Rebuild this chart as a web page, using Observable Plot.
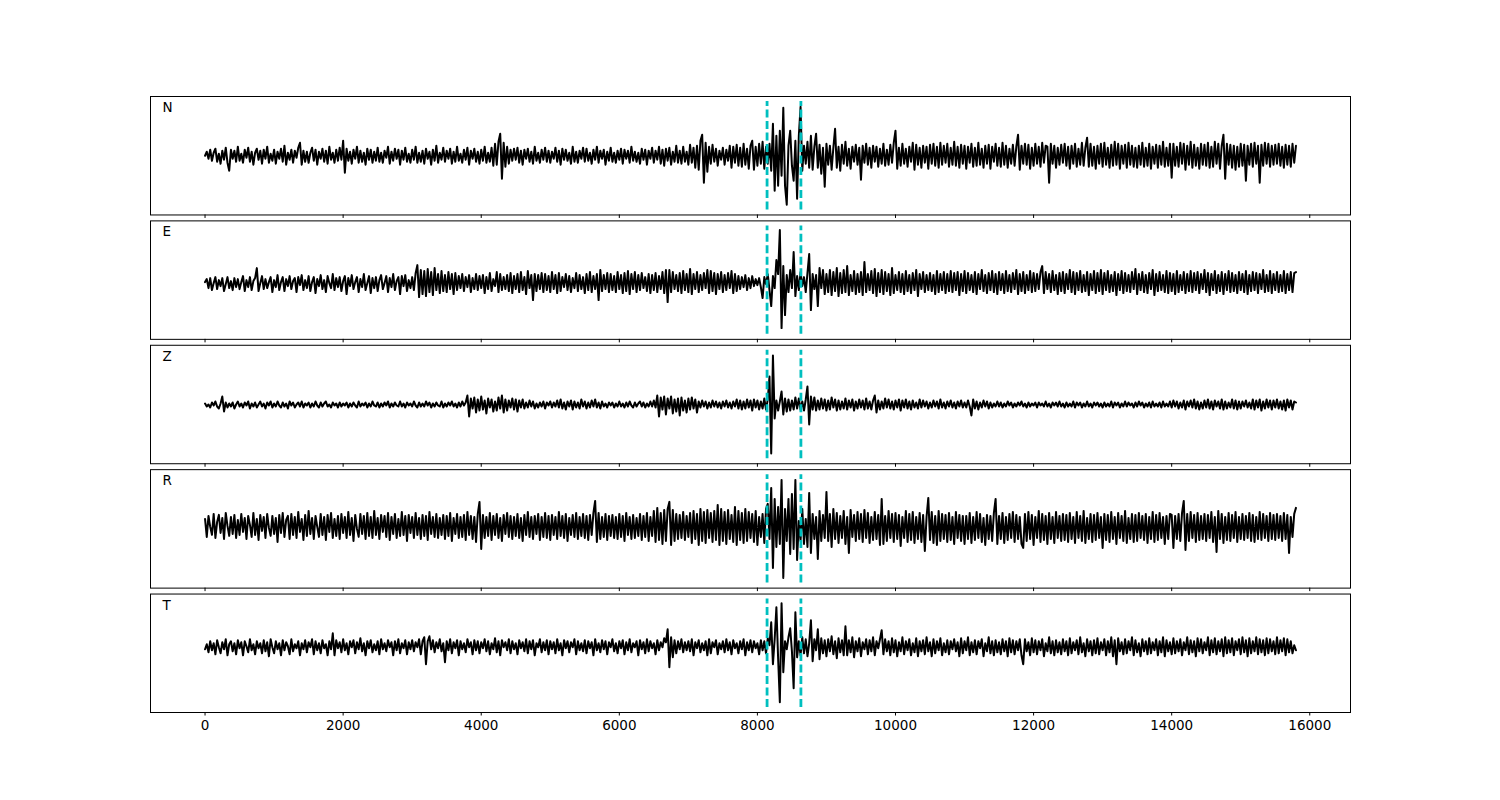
<!DOCTYPE html>
<html>
<head>
<meta charset="utf-8">
<script src="https://cdn.jsdelivr.net/npm/d3@7"></script>
<script src="https://cdn.jsdelivr.net/npm/@observablehq/plot@0.6"></script>
<style>
  html, body { margin: 0; padding: 0; background: white; }
  #chart { position: relative; width: 1500px; height: 800px; font-family: "DejaVu Sans", sans-serif; }
  #chart svg { position: absolute; left: 0; top: 0; }
</style>
</head>
<body>
<div id="chart"></div>
<script>
// Components and sampling
const components = ["N", "E", "Z", "R", "T"];
const sampleStep = 25;              // samples between stored values
const pickTimes = [8140, 8630];     // dashed cyan markers
const xTicks = [0, 2000, 4000, 6000, 8000, 10000, 12000, 14000, 16000];

// Trace amplitudes (one value every 25 samples, 20 per row)
const traceN = [
  0, 4, -3, 6, -5, 3, 7, -6, 2, -8, 5, -4, 8, -7, -15, 6, -3, 5, -6, 9,
  -5, 2, -7, 6, -2, 8, -6, 4, -9, 3, 7, -4, 5, -8, 6, -3, 9, -7, 2, -5,
  6, -8, 4, -3, 7, -6, 10, -9, 3, -4, 6, -7, 5, -2, 8, 13, -9, 5, -6, 4,
  -7, 3, 8, -5, 6, -9, 4, -3, 7, -6, 5, -8, 9, -4, 3, -7, 6, -5, 8, -4,
  15, -17, 7, -5, 4, -8, 6, -3, 9, -7, 5, -6, 3, -9, 7, -4, 6, -7, 4, -5,
  8, -6, 3, -7, 5, -2, 9, -8, 4, -5, 7, -3, 6, -9, 5, -4, 8, -6, 2, -7,
  6, -4, 9, -7, 3, -6, 5, -8, 7, -3, 4, -9, 6, -5, 10, -7, 3, -4, 8, -6,
  5, -3, 7, -8, 4, -6, 9, -5, 2, -7, 6, -4, 8, -9, 5, -3, 7, -6, 4, -8,
  6, -5, 9, -7, 3, -6, 8, -10, 12, -9, 14, 22, -23, 13, -11, 9, -8, 6, -5, 7,
  -4, 8, -7, 5, -9, 6, -3, 7, -6, 4, -8, 9, -5, 3, -7, 6, -4, 8, -6, 5,
  -7, 4, -3, 8, -6, 5, -9, 7, -4, 6, -5, 3, -8, 9, -6, 4, -7, 5, -3, 8,
  -6, 7, -5, 3, -8, 6, -4, 9, -7, 5, -3, 6, -9, 4, -5, 8, -6, 3, -7, 5,
  -4, 7, -8, 6, -3, 5, -7, 9, -5, 4, -6, 3, -8, 7, -4, 6, -9, 5, -3, 8,
  -7, 5, -4, 9, -8, 6, -10, 7, -5, 8, -9, 4, -6, 10, -7, 5, -8, 9, -6, 4,
  -9, 11, -7, 8, -12, 10, -14, 15, 21, -27, 13, -16, 9, -8, 11, -6, 7, -10, 5, -4,
  8, -9, 6, -5, 10, -12, 9, -7, 11, -10, 8, -11, 12, -9, 7, -13, 10, 15, -14, 9,
  -10, 12, -8, 14, -13, 9, -8, 12, -15, 32, -35, 20, -30, 25, -20, 48, -30, -49, 10, 25,
  -10, -25, 15, -43, 20, 49, -15, 10, -8, 14, -12, 20, -14, 9, 22, -12, 11, -18, 8, -31,
  12, -9, 10, -14, 8, 27, -12, 9, -15, 11, -8, 14, -10, 7, -13, 9, -6, 11, -9, 8,
  -24, 10, -7, 12, -9, 8, -12, 10, -6, 9, -11, 7, -8, 12, -10, 6, -9, 11, -7, 13,
  25, -13, 8, -10, 12, -8, 7, -11, 9, -6, 13, -14, 11, -9, 8, -12, 10, -7, 9, -13,
  11, -8, 12, -10, 9, -12, 13, -9, 10, -7, 12, -11, 8, -9, 14, -10, 9, -12, 11, -8,
  10, -13, 9, -7, 12, -11, 8, -10, 13, -9, 7, -12, 10, -8, 11, -13, 9, -6, 12, -10,
  8, -11, 13, -9, 10, -12, 7, -8, 11, -10, 9, 21, -14, 10, -8, 12, -9, 11, -13, 8,
  -10, 12, -8, 9, -11, 13, -7, 10, 9, -27, 12, -8, 10, -12, 8, -9, 11, -7, 12, -10,
  9, -13, 10, -8, 12, -11, 7, -9, 13, -10, 8, 18, -11, 12, -10, 9, -13, 10, -8, 12,
  -11, 13, -9, 8, -12, 11, -10, 14, -9, 12, -13, 10, -8, 11, -12, 13, -9, 10, -11, 8,
  -12, 10, -9, 13, -11, 8, -10, 12, -13, 9, -8, 11, -12, 10, -9, 14, -11, 8, -10, 12,
  -22, 12, -10, 9, -11, 13, -8, 12, -14, 10, -9, 14, -12, 11, -10, 8, -13, 12, -9, 11,
  -10, 13, -12, 9, -11, 14, -8, 12, -13, 10, 21, -23, 12, -9, 11, -12, 10, -14, 9, -11,
  12, -10, 11, -25, 10, -9, 12, -11, 13, -8, 10, -27, 11, -10, 13, -8, 12, -11, 10, -9,
  11, -8, 12, -10, 9, -12, 11, -9, 10, -11, 12, -7, 10
];
const traceE = [
  -2, 1, -8, 2, -10, -3, 3, -9, 0, -6, 2, -11, -4, 3, -8, -1, -10, 2, -7, 1,
  -9, -2, 4, -11, 0, -7, 3, -10, -1, 2, 12, -11, -3, 4, -9, 1, -8, -2, 3, -12,
  0, -7, 5, -10, -2, 3, -11, 1, -6, 4, -9, -1, 2, -12, 3, -5, 5, -10, 0, -8,
  4, -11, -2, 3, -13, 1, -6, 5, -9, 0, -12, 4, -3, -8, 6, -10, 2, -7, 3, -11,
  -1, 4, -14, 2, -6, 5, -9, -2, 3, -12, 1, -7, 6, -10, -3, 4, -13, 2, -8, 3,
  -11, 0, 5, -9, -3, 4, -12, 2, -7, 6, -10, -1, 3, -14, 4, -6, 5, -11, 0, -8,
  3, -10, 7, 15, -17, 10, -14, 9, -16, 11, -12, 8, -15, 12, -10, 6, -13, 9, -11, 5,
  -12, 8, -9, 6, -14, 7, -10, 4, -8, 6, -11, 3, -7, 5, -12, 2, -9, 6, -10, 4,
  -8, 5, -13, 3, -9, 7, -11, 1, -6, 8, -12, 6, -10, 3, -9, 5, -11, 7, -13, 4,
  -9, 6, -12, 8, -10, 3, -14, 9, -8, 5, -20, 6, -11, 5, -9, 7, -12, 6, -10, 4,
  -12, 8, -9, 5, -13, 7, -11, 3, -7, 6, -10, 4, -12, 2, -8, 7, -11, 5, -9, 3,
  -13, 6, -10, 8, -12, 4, -9, 6, -20, 10, -11, 5, -9, 7, -12, 6, -10, 4, -12, 8,
  -9, 5, -13, 7, -11, 9, -14, 6, -9, 8, -12, 5, -10, 7, -8, 3, -11, 6, -13, 5,
  -10, 7, -12, 4, -9, 8, -13, 10, -22, 10, -12, 8, -9, 5, -11, 7, -13, 9, -10, 6,
  -12, 11, -14, 6, -9, 8, -12, 5, -10, 7, -8, 10, -13, 9, -11, 7, -14, 6, -9, 8,
  -12, 5, -10, 7, -8, 9, -13, 6, -11, 4, -9, 3, -7, 5, -10, 2, -8, 4, -6, 1,
  -5, 2, -7, -18, 3, -4, 6, -10, -26, 4, -8, 20, 6, 50, -48, 14, -35, 5, -12, 10,
  -8, 28, -16, 4, -10, 8, -6, 3, -12, 7, 26, -30, 6, -9, 5, -26, 12, -8, 10, -14,
  6, -12, 10, -15, 8, -11, 12, -16, 7, -13, 10, -12, 14, -15, 5, -11, 9, -14, 6, -12,
  8, -15, 18, -12, 6, -10, 9, -13, 11, -16, 7, -12, 10, -14, 8, -11, 6, -15, 12, -13,
  5, -10, 8, -12, 6, -14, 9, -11, 5, -13, 7, -10, 10, -16, 6, -9, 8, -12, 5, -10,
  7, -11, 5, -14, 9, -12, 6, -10, 8, -13, 6, -11, 9, -12, 7, -10, 8, -15, 6, -11,
  9, -13, 7, -10, 5, -12, 8, -14, 6, -9, 10, -11, 5, -13, 7, -10, 9, -12, 6, -14,
  8, -10, 6, -13, 9, -11, 5, -12, 7, -9, 10, -14, 6, -11, 8, -13, 5, -10, 9, -12,
  7, -11, 6, -9, 8, 14, -13, 8, -9, 6, -12, 9, -10, 5, -14, 7, -11, 8, -13, 6,
  -9, 10, -12, 8, -14, 7, -10, 9, -12, 5, -11, 8, -15, 6, -10, 9, -13, 7, -11, 10,
  -14, 7, -10, 9, -12, 5, -11, 8, -15, 6, -10, 9, -13, 7, -11, 5, -12, 8, -9, 11,
  -14, 6, -10, 8, -12, 5, -13, 7, -9, 10, -15, 6, -11, 8, -10, 5, -12, 9, -13, 7,
  -11, 6, -14, 9, -12, 5, -10, 8, -13, 6, -11, 9, -12, 7, -10, 8, -13, 6, -9, 10,
  -12, 7, -15, 6, -10, 9, -13, 5, -11, 8, -14, 6, -10, 9, -12, 7, -11, 5, -13, 8,
  -10, 6, -12, 9, -14, 5, -11, 8, -10, 7, -13, 6, -9, 10, -12, 5, -11, 9, -13, 6,
  -10, 8, -12, 5, -11, 9, -13, 6, -10, 8, -12, 7, 8
];
const traceZ = [
  1, -2, 0, -3, 2, -1, 3, -2, -4, 1, 8, -7, 2, -3, 1, -2, 2, -4, 0, 3,
  -2, 1, -3, 2, -1, 3, -4, 1, -2, 2, -3, 0, 3, -2, 1, -4, 2, -1, 3, -3,
  1, -2, 3, -1, -3, 2, -2, 1, -4, 3, -1, 2, -3, 0, 2, -2, 3, -3, 1, -1,
  2, -3, 1, -2, 3, -1, -3, 2, -2, 1, 3, -2, 0, -3, 2, -1, 1, -3, 2, -2,
  1, -1, 2, -3, 1, -2, 2, -1, -3, 3, -2, 1, -1, 2, -3, 1, -2, 3, -1, -2,
  2, -3, 1, -2, 2, -1, 3, -3, 1, -2, 2, -1, -2, 3, -2, 1, -3, 2, -1, 1,
  -2, 3, -1, -3, 2, -2, 1, -2, 3, -1, 2, -3, 1, -2, 2, -1, -2, 3, -3, 1,
  -2, 2, -1, 3, -2, 1, -3, 2, -2, 3, -1, 2, 9, -12, 6, -4, 7, -8, 5, -6,
  8, -5, 4, -9, 6, -3, 5, -7, 3, -6, 7, -4, 9, -8, 5, -6, 4, -3, 6, -5,
  5, -7, 4, -3, 5, -4, 2, -3, 4, -2, 3, -4, 1, -3, 2, -2, 3, -4, 2, -1,
  3, -3, 2, -2, 4, -3, 5, -4, 2, -5, 3, -2, 4, -5, 3, -3, 2, -4, 5, -2,
  3, -4, 2, -3, 4, -2, 5, -3, 2, -4, 3, -2, 1, -3, 2, -1, 2, -3, 1, -2,
  3, -2, 1, -3, 2, -2, 3, -1, -3, 2, -2, 1, 3, -2, 2, -3, 1, -2, 3, -2,
  4, -3, 9, -12, 7, -5, 8, -10, 6, -4, 8, -9, 5, -7, 6, -11, 7, -6, 4, -8,
  6, -5, 7, -4, 5, -8, 3, -3, 4, -2, 3, -4, 2, -3, 4, -2, 3, -3, 2, -4,
  3, -2, 4, -3, 2, -4, 3, -2, 5, -4, 4, -5, 3, -4, 5, -3, 4, -6, 5, -3,
  4, -5, 3, -4, 6, -5, 5, 28, -49, 49, -14, 4, -6, 3, 13, -10, 6, -7, 5, -6,
  4, -5, 7, -4, 6, -5, 3, -6, 5, 18, -20, 8, -5, 7, -6, 4, -5, 6, -4, 5,
  -6, 4, -5, 7, -3, 5, -6, 4, -5, 3, -4, 6, -5, 4, -3, 5, -6, 3, -4, 5,
  -3, 4, -5, 6, -4, 3, -5, 4, 9, -8, 4, -5, 3, -4, 6, -3, 5, -4, 3, -5,
  4, -3, 5, -6, 4, -3, 5, -4, 3, -5, 4, -3, 2, -4, 5, -3, 4, -2, 3, -4,
  2, -3, 4, -2, 3, -4, 5, -3, 2, -4, 3, -2, 4, -3, 2, -4, 3, -2, 4, -3,
  2, -3, 4, -2, -11, 5, -4, 3, -5, 2, -3, 4, -2, 3, -4, 2, -3, 1, -2, 3,
  -2, 2, -3, 1, -2, 3, -1, 2, -3, 1, -2, 2, -1, 3, -2, 1, -3, 2, -2, 1,
  -1, 2, -3, 2, -1, 1, -2, 3, -2, 1, -3, 2, -1, 2, -2, 3, -2, 1, -3, 2,
  -2, 1, -2, 3, -3, 2, -1, 2, -3, 1, -2, 3, -2, 1, -3, 2, -1, 2, -2, 1,
  -3, 2, -2, 1, -2, 3, -3, 2, -1, 2, -3, 1, -2, 3, -2, 2, -1, 1, -3, 2,
  -2, 3, -1, 2, -3, 1, -2, 2, -3, 3, -2, 1, -2, 2, -3, 3, -2, 1, -2, 3,
  -3, 4, -2, 3, -4, 2, -3, 4, -5, 3, -2, 4, -3, 5, -4, 3, -5, 2, -4, 4,
  -3, 5, -4, 3, -5, 4, -2, 3, -4, 5, -5, 3, -4, 2, -3, 5, -4, 4, -5, 3,
  -4, 3, -2, 4, -3, 2, -4, 5, -5, 4, -3, 5, -6, 3, -4, 5, -3, 4, -5, 4,
  -3, 5, -4, 3, -5, 4, -6, 5, -3, 4, -5, 3, 2
];
const traceR = [
  10, -8, 13, 2, -6, 15, -9, 7, 14, -4, 11, -10, 16, 3, -7, 12, -5, 14, -9, 9,
  -6, 15, -3, 11, -10, 13, 4, -8, 16, -6, 10, -11, 14, -2, 12, -9, 15, 1, -7, 13,
  -5, 11, -13, 14, -4, 16, -8, 9, 13, -10, 15, -6, 12, -9, 17, -3, 10, -11, 14, -7,
  18, -5, 11, -10, 13, 2, -8, 15, -6, 12, -11, 14, -3, 16, -9, 10, -7, 13, -10, 15,
  -4, 12, -9, 17, -6, 11, -12, 14, 0, -8, 15, -5, 13, -10, 16, -7, 12, -9, 18, -6,
  11, -10, 14, -3, 13, -8, 16, -11, 12, -5, 15, -9, 10, -7, 17, -6, 13, -12, 14, -4,
  12, -9, 16, -6, 11, -10, 14, -7, 13, -11, 17, -5, 12, -8, 15, -9, 11, -6, 14, -10,
  13, -7, 16, -12, 11, -5, 15, -9, 12, -8, 14, -11, 17, -6, 13, -10, 12, -13, 15, 27,
  -20, 14, -9, 12, -7, 16, -11, 13, -6, 15, -9, 11, -12, 14, -5, 16, -8, 13, -10, 12,
  -7, 15, -9, 11, -12, 14, -6, 17, -8, 12, -10, 13, -5, 15, -11, 12, -8, 16, -9, 13,
  -11, 14, -6, 12, -10, 17, -7, 13, -9, 15, -12, 11, -6, 14, -8, 16, -10, 12, -7, 15,
  -9, 13, -11, 14, -6, 16, 28, -13, 16, -10, 12, -8, 15, -11, 13, -7, 14, -9, 12, -10,
  15, -8, 13, -12, 16, -6, 12, -10, 14, -9, 11, -7, 15, -11, 13, -8, 16, -12, 12, -7,
  18, -13, 21, -11, 16, -15, 19, -12, 20, 27, -16, 19, -12, 15, -10, 14, -9, 17, -11, 13,
  -8, 16, -14, 18, -10, 15, -16, 20, -12, 17, -14, 19, -9, 16, -13, 18, -11, 24, -16, 20,
  -12, 17, -15, 19, -10, 14, -13, 22, -16, 18, -11, 16, -14, 20, -12, 17, -9, 15, -13, 18,
  -16, 12, -8, 15, -14, 20, 25, -10, 41, -39, 30, -18, 22, -15, 49, -49, 20, -12, 30, -25,
  35, -20, 49, -31, 8, -12, 20, -15, 10, -18, 36, -24, 15, -10, 12, -30, 18, -12, 14, -9,
  37, -12, 15, -18, 20, -10, 16, -14, 13, -9, 18, -15, 12, -24, 19, -8, 14, -12, 17, -10,
  15, -13, 19, -9, 16, -14, 12, -11, 17, -10, 14, -16, 30, -15, 13, -12, 18, -9, 15, -13,
  16, -10, 14, -17, 12, -9, 18, -13, 15, -11, 17, -14, 12, -10, 16, -13, 14, -22, 12, 31,
  -11, 17, -14, 13, -16, 18, -12, 15, -10, 14, -13, 16, -11, 12, -15, 17, -9, 14, -12, 13,
  -15, 13, -10, 16, -14, 12, -11, 17, -9, 15, -13, 11, -16, 14, -10, 13, -12, 16, 30, -15,
  13, -10, 16, -14, 12, -11, 15, -9, 17, -13, 14, -10, 12, -15, -19, 15, -12, 17, -10, 14,
  -16, 12, -9, 18, -13, 15, -11, 13, -15, 16, -10, 12, -14, 17, -9, 13, -12, 15, -11, 14,
  -13, 16, -10, 12, -14, 17, -9, 13, -12, 18, -14, 11, -10, 15, -13, 14, -11, 16, -9, 12,
  -19, 15, -11, 14, -13, 17, -10, 12, -15, 16, -9, 13, -12, 18, -14, 11, -10, 15, -13, 14,
  -12, 16, -9, 13, -11, 15, -14, 12, -10, 17, -13, 14, -11, 16, -9, 12, -15, 13, -10, 15,
  14, -19, 13, -10, 15, -12, 16, 28, -21, 15, -12, 17, -9, 14, -13, 16, -11, 13, -10, 15,
  -12, 14, -9, 17, -13, 12, -23, 18, -10, 15, -14, 12, -11, 16, -12, 14, -9, 17, -13, 12,
  -10, 15, -11, 13, -9, 16, -12, 14, -13, 12, -10, 17, -11, 15, -9, 13, -12, 16, -10, 14,
  -11, 15, -9, 13, -12, 16, -10, 14, -24, 12, -8, 15, 21
];
const traceT = [
  4, 9, 1, 12, 3, 10, -1, 13, 6, 0, 11, 4, 14, -2, 9, 12, 2, 10, -1, 13,
  5, 11, -2, 12, 7, 1, 14, 3, 9, -1, 12, 5, 10, 0, 13, 2, 11, -3, 14, 6,
  0, 12, 4, 10, -2, 13, 3, 11, 7, -1, 14, 2, 9, 5, 12, -2, 10, 4, 13, 1,
  11, 6, 14, -1, 12, 3, 10, 0, 13, 5, 9, -2, 12, 4, 20, -2, 13, 5, 11, 1,
  14, 3, 10, -1, 12, 6, 13, 0, 11, 4, 15, 2, 10, -2, 12, 5, 13, 1, 9, 3,
  12, -1, 14, 4, 10, 2, 13, 6, 11, -2, 12, 3, 14, 0, 10, 5, 13, -1, 11, 4,
  13, 2, 11, 6, 14, -1, 12, 16, -11, 12, 17, 4, 13, 1, 11, 5, 14, 2, 10, -9,
  12, 3, 14, 0, 11, 5, 13, -2, 12, 4, 10, 1, 14, 6, 11, -1, 13, 3, 12, 0,
  11, 5, 14, 2, 12, -1, 10, 4, 15, 1, 12, -2, 13, 6, 11, 3, 14, 0, 12, 4,
  10, -1, 13, 5, 11, 2, 14, 0, 12, 4, 13, -2, 10, 6, 14, 1, 11, 3, 13, -1,
  12, 4, 11, 0, 14, 3, 10, -2, 13, 5, 12, 1, 11, 6, 14, -1, 12, 3, 10, 2,
  13, 0, 12, 5, 11, -2, 14, 3, 10, 1, 13, 4, 12, -1, 11, 6, 14, 2, 10, 0,
  12, 5, 13, -1, 11, 3, 14, 1, 10, 6, 12, -2, 13, 4, 11, 0, 14, 2, 12, 5,
  10, -1, 13, 3, 11, 6, 15, 11, 24, -14, 16, -4, 13, 0, 12, 4, 14, 1, 11, 3,
  12, 2, 14, -2, 11, 5, 13, 1, 10, 3, 12, -2, 14, 0, 11, 6, 13, -1, 10, 4,
  12, 1, 14, 3, 11, -1, 13, 5, 10, 0, 12, 4, 14, -2, 11, 3, 13, 1, 12, 5,
  10, -1, 13, 3, 12, 0, 15, 8, 31, -11, 14, 46, -5, -49, 50, -19, 12, 4, 16, 25,
  2, -35, 41, -4, 12, -2, 16, 0, 14, -3, 10, 33, -8, 14, 3, 24, -6, 15, 0, 13,
  -3, 14, 2, 17, -1, 12, -5, 15, 1, 13, -2, 27, -2, 13, 1, 16, -4, 12, 2, 15,
  -3, 11, 4, 14, -1, 13, 2, 16, -2, 12, 5, 14, 23, -1, 14, 2, 12, -2, 15, 1,
  13, -3, 11, 2, 16, -1, 12, 3, 14, -2, 10, 1, 15, -3, 12, 2, 13, -1, 16, 2,
  11, -3, 14, 0, 12, 3, 15, -2, 10, 1, 13, -1, 12, 4, 14, 2, 11, -3, 15, 0,
  12, 3, 16, -2, 11, 1, 13, -1, 12, 5, 14, -3, 10, 2, 16, 0, 12, -2, 13, 1,
  11, -1, 14, 2, 12, -3, 15, 1, 13, -1, 12, 3, 14, -2, -11, 14, 2, 11, -2, 15,
  1, 13, -1, 12, 3, 14, -3, 10, 2, 16, 0, 12, -2, 13, 1, 11, -1, 14, 2, 12,
  -2, 15, 0, 11, 3, 13, -1, 16, 1, 10, -3, 14, 2, 12, -2, 13, 0, 15, -1, 11,
  3, 14, -2, 12, 1, 16, -3, 13, -11, 15, 2, 11, -1, 14, 0, 12, 3, 16, -2, 13,
  1, 10, -3, 14, 2, 12, -1, 15, 0, 11, 3, 14, -2, 12, 1, 16, -3, 13, 2, 11,
  -1, 15, 0, 12, 2, 14, -2, 11, 3, 16, -1, 13, 1, 12, -3, 15, 2, 14, 0, 11,
  3, 16, -2, 13, 1, 15, -1, 12, 2, 14, -3, 16, 0, 13, 1, 15, -2, 12, 3, 14,
  -1, 16, 1, 13, -3, 15, 0, 12, 2, 16, -1, 14, 1, 13, -2, 15, 0, 14, 2, 12,
  -1, 16, 0, 13, 2, 15, -2, 14, 1, 12, 0, 8, 3
];
const traces = [traceN, traceE, traceZ, traceR, traceT];

// Layout (matplotlib-like subplot grid)
const figW = 1500, figH = 800;
const gridLeft = 150, gridRight = 1350, gridTop = 96, gridBottom = 712;
const nPanels = components.length;
const hspace = 0.05;
const panelH = (gridBottom - gridTop) / (nPanels + (nPanels - 1) * hspace);
const panelGap = panelH * hspace;
const yHalf = panelH / 2;
const xDomain = [-790, 16590];

const chart = document.getElementById("chart");
components.forEach((name, k) => {
  const pTop = gridTop + k * (panelH + panelGap);
  const pBottom = pTop + panelH;
  const isLast = k === nPanels - 1;
  const values = traces[k];
  const rows = values.map((v, i) => ({t: i * sampleStep, a: v}));
  const svg = Plot.plot({
    width: figW,
    height: figH,
    marginLeft: gridLeft,
    marginRight: figW - gridRight,
    marginTop: pTop,
    marginBottom: figH - pBottom,
    style: {background: "transparent", overflow: "visible", fontFamily: "DejaVu Sans, sans-serif", fontSize: "13.5px", color: "black"},
    x: {domain: xDomain, axis: null},
    y: {domain: [-yHalf, yHalf], axis: null},
    marks: [
      Plot.line(rows, {x: "t", y: "a", stroke: "black", strokeWidth: 2, strokeLinejoin: "round"}),
      Plot.ruleX(pickTimes, {y1: -yHalf + 5, y2: yHalf - 5, stroke: "#00BFBF", strokeWidth: 2.8, strokeDasharray: "8,3.5"}),
      Plot.frame({stroke: "black", strokeWidth: 1}),
      Plot.axisX(xTicks, {
        anchor: "bottom",
        label: null,
        tickSize: 3.5,
        tickPadding: 4,
        tickFormat: isLast ? (d => String(d)) : (() => ""),
        fontSize: 13.5,
        stroke: "black",
        fill: "black"
      }),
      Plot.text([name], {frameAnchor: "top-left", dx: 12, dy: 6, fontSize: 13.5, fill: "black", textAnchor: "start", lineAnchor: "top"})
    ]
  });
  chart.appendChild(svg);
});
</script>
</body>
</html>
